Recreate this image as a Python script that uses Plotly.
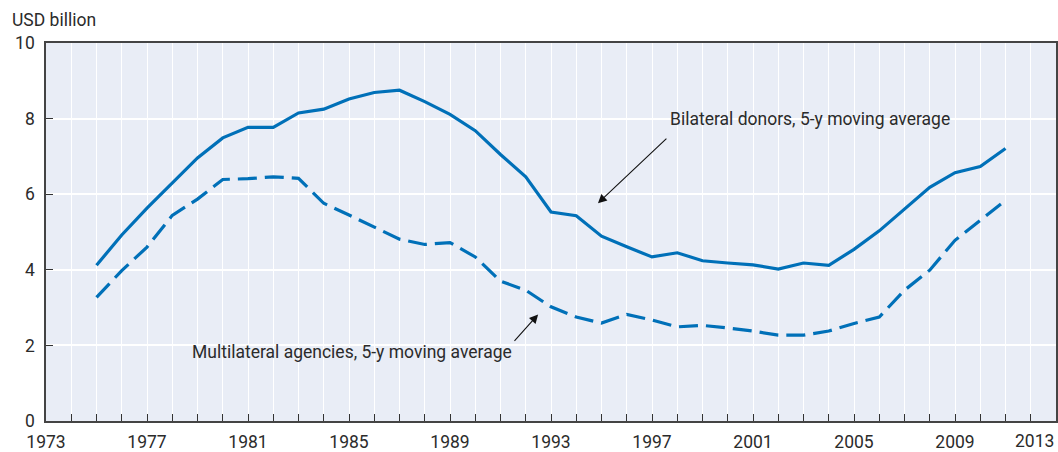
import plotly.graph_objects as go

years = list(range(1975, 2012))
bilateral = [4.12, 4.92, 5.63, 6.29, 6.96, 7.49, 7.77, 7.77, 8.15, 8.25, 8.52, 8.69, 8.75,
             8.45, 8.11, 7.68, 7.05, 6.46, 5.53, 5.43, 4.89, 4.61, 4.34, 4.45, 4.24, 4.18,
             4.13, 4.02, 4.18, 4.12, 4.54, 5.03, 5.60, 6.18, 6.57, 6.73, 7.21]
multilateral = [3.27, 3.98, 4.60, 5.44, 5.87, 6.39, 6.41, 6.46, 6.42, 5.76, 5.45, 5.12, 4.81,
                4.67, 4.72, 4.34, 3.70, 3.46, 3.02, 2.75, 2.59, 2.82, 2.67, 2.49, 2.53, 2.46,
                2.38, 2.27, 2.27, 2.38, 2.58, 2.75, 3.46, 3.99, 4.78, 5.31, 5.84]
x_tick_labels = ["1973", "1977", "1981", "1985", "1989", "1993", "1997", "2001", "2005", "2009"]
x_tick_vals = [int(t) for t in x_tick_labels]
y_tick_vals = [0, 2, 4, 6, 8, 10]

FONT = "Roboto, DejaVu Sans Condensed, sans-serif"
TXT = "#2b2b2b"
BLUE = "#0070b8"
FS = 17.5

fig = go.Figure()
fig.add_trace(go.Scatter(x=years, y=bilateral, mode="lines",
                         line=dict(color=BLUE, width=3.2), name="Bilateral donors"))
fig.add_trace(go.Scatter(x=years, y=multilateral, mode="lines",
                         line=dict(color=BLUE, width=3.2, dash="19px,8px"), name="Multilateral agencies"))

fig.update_layout(
    width=1058, height=452,
    margin=dict(l=46, r=2, t=43, b=31),
    paper_bgcolor="white", plot_bgcolor="#e9edf6",
    showlegend=False,
    font=dict(family=FONT, size=FS, color=TXT),
)
fig.update_xaxes(
    range=[1973, 2013], tickvals=x_tick_vals, ticktext=x_tick_labels,
    ticks="inside", ticklen=7, tickcolor="#333", tickwidth=1, ticklabelstandoff=4,
    showgrid=True, gridcolor="white", gridwidth=1,
    minor=dict(dtick=1, tick0=1973, ticks="inside", ticklen=7, tickcolor="#333",
               showgrid=True, gridcolor="white", gridwidth=1),
    showline=True, linecolor="#444", linewidth=1.5, mirror=True,
    tickfont=dict(family=FONT, size=FS, color=TXT), automargin=False, zeroline=False,
)
fig.update_yaxes(
    range=[0, 10], tickvals=y_tick_vals,
    ticks="inside", ticklen=7, tickcolor="#333", tickwidth=1, ticklabelstandoff=6,
    showgrid=True, gridcolor="white", gridwidth=1.5,
    showline=True, linecolor="#444", linewidth=1.5, mirror=True,
    tickfont=dict(family=FONT, size=FS, color=TXT), automargin=False, zeroline=False,
)

fig.add_annotation(x=2013, y=0, xref="x", yref="paper", text="2013", showarrow=False,
                   xanchor="right", yanchor="top", yshift=-8,
                   font=dict(family=FONT, size=FS, color=TXT))
fig.add_annotation(x=-0.0356, y=1.061, xref="paper", yref="paper", text="USD billion",
                   showarrow=False, xanchor="left", yanchor="middle",
                   font=dict(family=FONT, size=FS, color=TXT))
fig.add_annotation(x=1997.63, y=8.0, xref="x", yref="y",
                   text="Bilateral donors, 5-y moving average", showarrow=False,
                   xanchor="left", yanchor="middle", font=dict(family=FONT, size=FS, color=TXT))
fig.add_annotation(x=1994.86, y=5.76, ax=1997.63, ay=7.51, axref="x", ayref="y",
                   xref="x", yref="y", text="", showarrow=True, arrowhead=2,
                   arrowsize=1.6, arrowwidth=1.1, arrowcolor="#111")
fig.add_annotation(x=1978.70, y=1.82, xref="x", yref="y",
                   text="Multilateral agencies, 5-y moving average", showarrow=False,
                   xanchor="left", yanchor="middle", font=dict(family=FONT, size=FS, color=TXT))
fig.add_annotation(x=1992.49, y=2.82, ax=1991.50, ay=2.08, axref="x", ayref="y",
                   xref="x", yref="y", text="", showarrow=True, arrowhead=2,
                   arrowsize=1.6, arrowwidth=1.1, arrowcolor="#111")

fig.write_html("out.html", config={"displayModeBar": False},
               post_script="document.body.style.margin='0';document.body.style.overflow='hidden';")
